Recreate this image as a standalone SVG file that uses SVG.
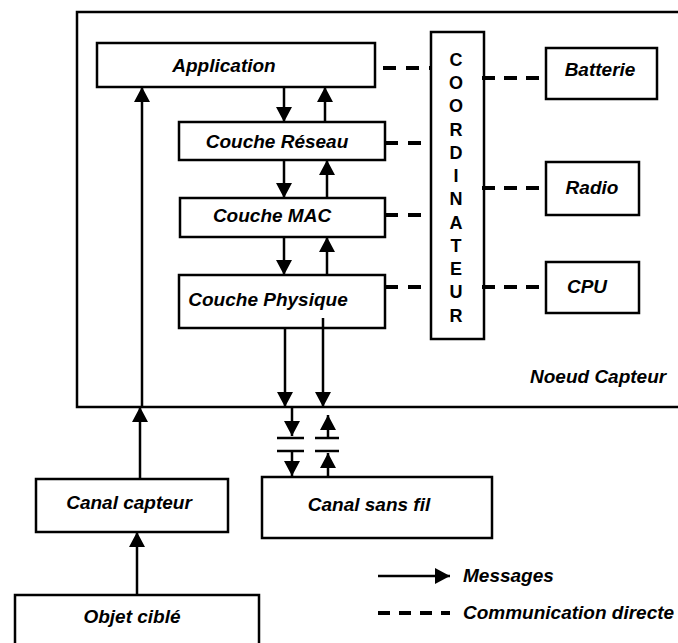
<svg xmlns="http://www.w3.org/2000/svg" width="678" height="643" viewBox="0 0 678 643">
<style>
  .box { fill: #fff; stroke: #000; stroke-width: 2.5; }
  .lbl { font-family: "Liberation Sans", Arial, sans-serif; font-style: italic; font-weight: bold; font-size: 19px; fill: #000; }
  .coord { font-family: "Liberation Sans", Arial, sans-serif; font-weight: bold; font-size: 18px; fill: #000; text-anchor: middle; }
  .msg { stroke: #000; stroke-width: 2.5; fill: none; marker-end: url(#ah); }
  .dash { stroke: #000; stroke-width: 4; fill: none; stroke-dasharray: 13 10; }
  .dash2 { stroke: #000; stroke-width: 4; fill: none; stroke-dasharray: 13 9; }
  .bar { stroke: #000; stroke-width: 2.5; }
</style>
<defs>
  <marker id="ah" viewBox="0 0 10 10" refX="10" refY="5" markerWidth="15" markerHeight="16" markerUnits="userSpaceOnUse" orient="auto" preserveAspectRatio="none">
    <path d="M0,0 L10,5 L0,10 z" fill="#000"/>
  </marker>
</defs>
<rect width="678" height="643" fill="#fff"/>

<g id="noeud-capteur">
  <rect class="box" x="77" y="12" width="640" height="395" fill="none"/>
  <text class="lbl" x="530" y="383">Noeud Capteur</text>
</g>

<g id="application">
  <rect class="box" x="97" y="43" width="278" height="44"/>
  <text class="lbl" x="224" y="72" text-anchor="middle">Application</text>
</g>
<g id="couche-reseau">
  <rect class="box" x="179" y="122" width="206" height="38"/>
  <text class="lbl" x="277" y="148" text-anchor="middle">Couche Réseau</text>
</g>
<g id="couche-mac">
  <rect class="box" x="180" y="198" width="205" height="39"/>
  <text class="lbl" x="272" y="222" text-anchor="middle">Couche MAC</text>
</g>
<g id="couche-physique">
  <rect class="box" x="179" y="275" width="206" height="53"/>
  <text class="lbl" x="268" y="306" text-anchor="middle">Couche Physique</text>
</g>
<g id="coordinateur">
  <rect class="box" x="431" y="32" width="53" height="307"/>
  <text class="coord" x="456" y="66">C</text>
  <text class="coord" x="456" y="89">O</text>
  <text class="coord" x="456" y="112">O</text>
  <text class="coord" x="456" y="136">R</text>
  <text class="coord" x="456" y="159">D</text>
  <text class="coord" x="456" y="182">I</text>
  <text class="coord" x="456" y="205">N</text>
  <text class="coord" x="456" y="229">A</text>
  <text class="coord" x="456" y="252">T</text>
  <text class="coord" x="456" y="275">E</text>
  <text class="coord" x="456" y="298">U</text>
  <text class="coord" x="456" y="322">R</text>
</g>
<g id="batterie">
  <rect class="box" x="546" y="48" width="111" height="51"/>
  <text class="lbl" x="600" y="76" text-anchor="middle">Batterie</text>
</g>
<g id="radio">
  <rect class="box" x="546" y="162" width="93" height="53"/>
  <text class="lbl" x="592" y="194" text-anchor="middle">Radio</text>
</g>
<g id="cpu">
  <rect class="box" x="546" y="262" width="93" height="51"/>
  <text class="lbl" x="587" y="293" text-anchor="middle">CPU</text>
</g>
<g id="canal-capteur">
  <rect class="box" x="36" y="479" width="192" height="53"/>
  <text class="lbl" x="129" y="509" text-anchor="middle">Canal capteur</text>
</g>
<g id="canal-sans-fil">
  <rect class="box" x="262" y="477" width="230" height="61"/>
  <text class="lbl" x="369" y="511" text-anchor="middle">Canal sans fil</text>
</g>
<g id="objet-cible">
  <rect class="box" x="15" y="595" width="244" height="60"/>
  <text class="lbl" x="132" y="623" text-anchor="middle">Objet ciblé</text>
</g>

<g id="connectors">
  <line class="msg" x1="284" y1="87" x2="284" y2="122"/>
  <line class="msg" x1="325" y1="122" x2="325" y2="87"/>
  <line class="msg" x1="284" y1="160" x2="284" y2="198"/>
  <line class="msg" x1="327" y1="198" x2="327" y2="160"/>
  <line class="msg" x1="284" y1="237" x2="284" y2="275"/>
  <line class="msg" x1="327" y1="275" x2="327" y2="237"/>
  <line class="msg" x1="285" y1="328" x2="285" y2="407"/>
  <line class="msg" x1="323" y1="318" x2="323" y2="407"/>
  <line class="msg" x1="292" y1="407" x2="292" y2="436"/>
  <line class="bar" x1="277" y1="438" x2="304" y2="438"/>
  <line class="bar" x1="277" y1="451" x2="304" y2="451"/>
  <line class="msg" x1="292" y1="451" x2="292" y2="476"/>
  <line class="msg" x1="328" y1="438" x2="328" y2="415"/>
  <line class="bar" x1="315" y1="438" x2="339" y2="438"/>
  <line class="bar" x1="315" y1="451" x2="339" y2="451"/>
  <line class="msg" x1="328" y1="476" x2="328" y2="453"/>
  <line class="msg" x1="137" y1="595" x2="137" y2="532"/>
  <line class="msg" x1="140" y1="479" x2="140" y2="407"/>
  <line class="msg" x1="142" y1="407" x2="142" y2="87"/>
  <line class="dash" x1="383" y1="68" x2="431" y2="68"/>
  <line class="dash" x1="385" y1="143" x2="431" y2="143"/>
  <line class="dash" x1="385" y1="215" x2="431" y2="215"/>
  <line class="dash" x1="385" y1="287" x2="431" y2="287"/>
  <line class="dash2" x1="482" y1="78" x2="546" y2="78"/>
  <line class="dash2" x1="482" y1="188" x2="546" y2="188"/>
  <line class="dash2" x1="482" y1="287" x2="546" y2="287"/>
</g>

<g id="legend">
  <line class="msg" x1="378" y1="576" x2="450" y2="576"/>
  <text class="lbl" x="463" y="582">Messages</text>
  <line class="dash2" x1="378" y1="613" x2="450" y2="613" style="stroke-dasharray:12 9"/>
  <text class="lbl" x="463" y="619">Communication directe</text>
</g>
</svg>
